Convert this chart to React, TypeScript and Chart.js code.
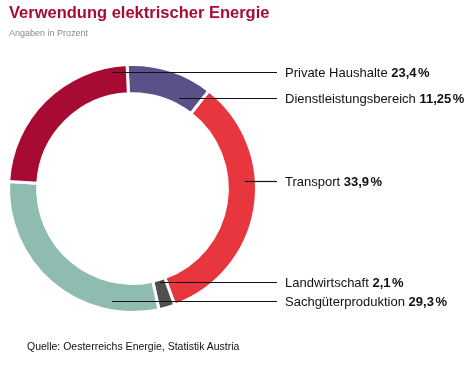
import React, { useEffect, useRef } from "react";
import { Chart, registerables } from "chart.js";

Chart.register(...registerables);

const categories = [
  "Dienstleistungsbereich",
  "Transport",
  "Landwirtschaft",
  "Sachgüterproduktion",
  "Private Haushalte",
];
const values = [11.25, 33.9, 2.1, 29.3, 23.4];
const valueLabels = ["11,25", "33,9", "2,1", "29,3", "23,4"];
const colors = ["#5b5189", "#e8363f", "#4f4f4f", "#8fbcb1", "#a70a33"];

const FONT = "'Liberation Sans', Arial, sans-serif";

// leader-line layout relative to the ring centre (dx start, dy line)
const LABEL_LAYOUT = [
  { dx: 46.5, dy: -91 },
  { dx: 112.5, dy: -8 },
  { dx: 27.5, dy: 93 },
  { dx: -20.5, dy: 112.5 },
  { dx: -20.5, dy: -116.5 },
];

const labelPlugin = {
  id: "leaderLabels",
  afterDraw(chart: any) {
    const ctx = chart.ctx;
    const meta = chart.getDatasetMeta(0);
    const arc = meta.data[0];
    if (!arc) return;
    const cx = arc.x;
    const cy = arc.y;
    ctx.save();
    categories.forEach((name, i) => {
      const lay = LABEL_LAYOUT[i];
      const y = Math.round(cy + lay.dy) + 0.5;
      ctx.strokeStyle = "#111";
      ctx.lineWidth = 1.2;
      ctx.beginPath();
      ctx.moveTo(cx + lay.dx, y);
      ctx.lineTo(cx + 144.5, y);
      ctx.stroke();
      const tx = cx + 152.5;
      ctx.fillStyle = "#111";
      ctx.textBaseline = "middle";
      ctx.textAlign = "left";
      ctx.font = `13px ${FONT}`;
      const t1 = name + " ";
      ctx.fillText(t1, tx, y + 0.5);
      const w1 = ctx.measureText(t1).width;
      ctx.font = `bold 13px ${FONT}`;
      const v = valueLabels[i];
      ctx.fillText(v, tx + w1, y + 0.5);
      const w2 = ctx.measureText(v).width;
      ctx.fillText("%", tx + w1 + w2 + 1.5, y + 0.5);
    });
    ctx.restore();
  },
};

export default function App() {
  const ref = useRef<HTMLCanvasElement>(null);
  useEffect(() => {
    if (!ref.current) return;
    const chart = new Chart(ref.current, {
      type: "doughnut",
      data: {
        labels: categories,
        datasets: [
          {
            data: values,
            backgroundColor: colors,
            borderColor: "#ffffff",
            borderWidth: 3,
            radius: 124,
          } as any,
        ],
      },
      options: {
        responsive: false,
        animation: false,
        rotation: -2.5,
        cutout: "76.5%",
        layout: { padding: { left: 0, right: 209, top: 66, bottom: 54 } },
        plugins: {
          legend: { display: false },
          tooltip: { enabled: false },
          title: { display: false },
        },
      },
      plugins: [labelPlugin],
    });
    return () => chart.destroy();
  }, []);

  return (
    <div
      style={{
        position: "fixed",
        left: 0,
        top: 0,
        width: 474,
        height: 365,
        background: "#fff",
        fontFamily: FONT,
      }}
    >
      <canvas ref={ref} width={474} height={365} style={{ position: "absolute", left: 0, top: 0 }} />
      <div
        style={{
          position: "absolute",
          left: 9,
          top: 2,
          fontSize: 16.5,
          fontWeight: "bold",
          color: "#a50d33",
          whiteSpace: "nowrap",
          lineHeight: "20px",
        }}
      >
        Verwendung elektrischer Energie
      </div>
      <div
        style={{
          position: "absolute",
          left: 9,
          top: 27,
          fontSize: 9,
          color: "#8a8a8a",
          whiteSpace: "nowrap",
          lineHeight: "12px",
        }}
      >
        Angaben in Prozent
      </div>
      <div
        style={{
          position: "absolute",
          left: 27,
          top: 339,
          fontSize: 10.5,
          color: "#111",
          whiteSpace: "nowrap",
          lineHeight: "14px",
        }}
      >
        Quelle: Oesterreichs Energie, Statistik Austria
      </div>
    </div>
  );
}
